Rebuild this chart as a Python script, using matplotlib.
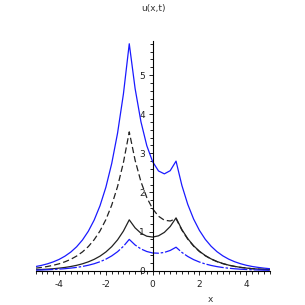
import matplotlib
matplotlib.use('Agg')
import matplotlib.pyplot as plt
from matplotlib.ticker import MultipleLocator

# sample positions (x), step 0.25
x = [-5, -4.75, -4.5, -4.25, -4, -3.75, -3.5, -3.25, -3, -2.75, -2.5, -2.25,
     -2, -1.75, -1.5, -1.25, -1, -0.75, -0.5, -0.25,
     0, 0.25, 0.5, 0.75, 1, 1.25, 1.5, 1.75, 2, 2.25, 2.5, 2.75,
     3, 3.25, 3.5, 3.75, 4, 4.25, 4.5, 4.75, 5]

# upper blue curve (solid)
u_blue_top = [0.106, 0.136, 0.175, 0.225, 0.288, 0.371, 0.476, 0.611, 0.785,
              1.008, 1.294, 1.661, 2.132, 2.739, 3.516, 4.515, 5.80,
              4.655, 3.805, 3.195, 2.785, 2.549, 2.475, 2.556, 2.80,
              2.178, 1.696, 1.321, 1.029, 0.801, 0.624, 0.486, 0.379,
              0.295, 0.230, 0.179, 0.139, 0.108, 0.085, 0.066, 0.051]

# black dashed curve
u_dashed = [0.065, 0.083, 0.107, 0.138, 0.176, 0.227, 0.291, 0.374, 0.480,
            0.616, 0.792, 1.016, 1.305, 1.676, 2.151, 2.763, 3.548,
            2.822, 2.273, 1.868, 1.581, 1.392, 1.290, 1.270, 1.330,
            1.036, 0.807, 0.628, 0.489, 0.381, 0.297, 0.231, 0.180,
            0.140, 0.109, 0.085, 0.066, 0.052, 0.040, 0.031, 0.024]

# black solid curve
u_black = [0.024, 0.031, 0.039, 0.050, 0.065, 0.083, 0.107, 0.137, 0.176,
           0.226, 0.290, 0.372, 0.478, 0.614, 0.788, 1.012, 1.300,
           1.094, 0.957, 0.881, 0.859, 0.891, 0.979, 1.129, 1.350,
           1.051, 0.819, 0.638, 0.497, 0.387, 0.301, 0.235, 0.183,
           0.142, 0.111, 0.086, 0.067, 0.052, 0.041, 0.032, 0.025]

# lower blue curve (dash-dot)
u_blue_low = [0.015, 0.019, 0.024, 0.031, 0.040, 0.051, 0.066, 0.084, 0.108,
              0.139, 0.178, 0.229, 0.294, 0.378, 0.485, 0.623, 0.800,
              0.657, 0.556, 0.490, 0.453, 0.447, 0.467, 0.517, 0.600,
              0.467, 0.364, 0.283, 0.221, 0.172, 0.134, 0.104, 0.081,
              0.063, 0.049, 0.038, 0.030, 0.023, 0.018, 0.014, 0.011]

fig = plt.figure(figsize=(3.05, 3.05), dpi=100)
ax = fig.add_axes([0.117, 0.1125, 0.767, 0.753])

ax.plot(x, u_blue_top, color='#1a1aff', lw=0.9)
ax.plot(x, u_dashed, color='#222222', lw=0.9, linestyle=(0, (5, 2.5)))
ax.plot(x, u_black, color='#222222', lw=0.9)
ax.plot(x, u_blue_low, color='#1a1aff', lw=0.9, linestyle=(0, (14, 1.5, 2, 1.5)))

ax.set_xlim(-5, 5)
ax.set_ylim(0, 5.87)

# maple style axes through the origin
for s in ['top', 'right']:
    ax.spines[s].set_visible(False)
ax.spines['left'].set_position(('data', 0))
ax.spines['bottom'].set_position(('data', 0))
ax.spines['left'].set_linewidth(0.8)
ax.spines['bottom'].set_linewidth(0.8)

ax.xaxis.set_major_locator(MultipleLocator(2))
ax.xaxis.set_minor_locator(MultipleLocator(0.25))
ax.yaxis.set_major_locator(MultipleLocator(1))
ax.yaxis.set_minor_locator(MultipleLocator(0.2))
ax.tick_params(which='both', direction='out', width=0.7, labelsize=6.5,
               colors='#222222')
ax.tick_params(which='major', length=3)
ax.tick_params(which='minor', length=2.5)
ax.tick_params(axis='x', pad=3.5)
ax.tick_params(axis='y', pad=2.5)
ax.set_xticks([-4, -2, 0, 2, 4])
ax.set_xticklabels(['-4', '-2', '0', '2', '4'])

fig.text(0.502, 0.972, 'u(x,t)', ha='center', va='center', fontsize=6.5,
         color='#333333')
fig.text(0.689, 0.017, 'x', ha='center', va='center', fontsize=6.5,
         color='#333333')

fig.savefig('out.png', dpi=100)
